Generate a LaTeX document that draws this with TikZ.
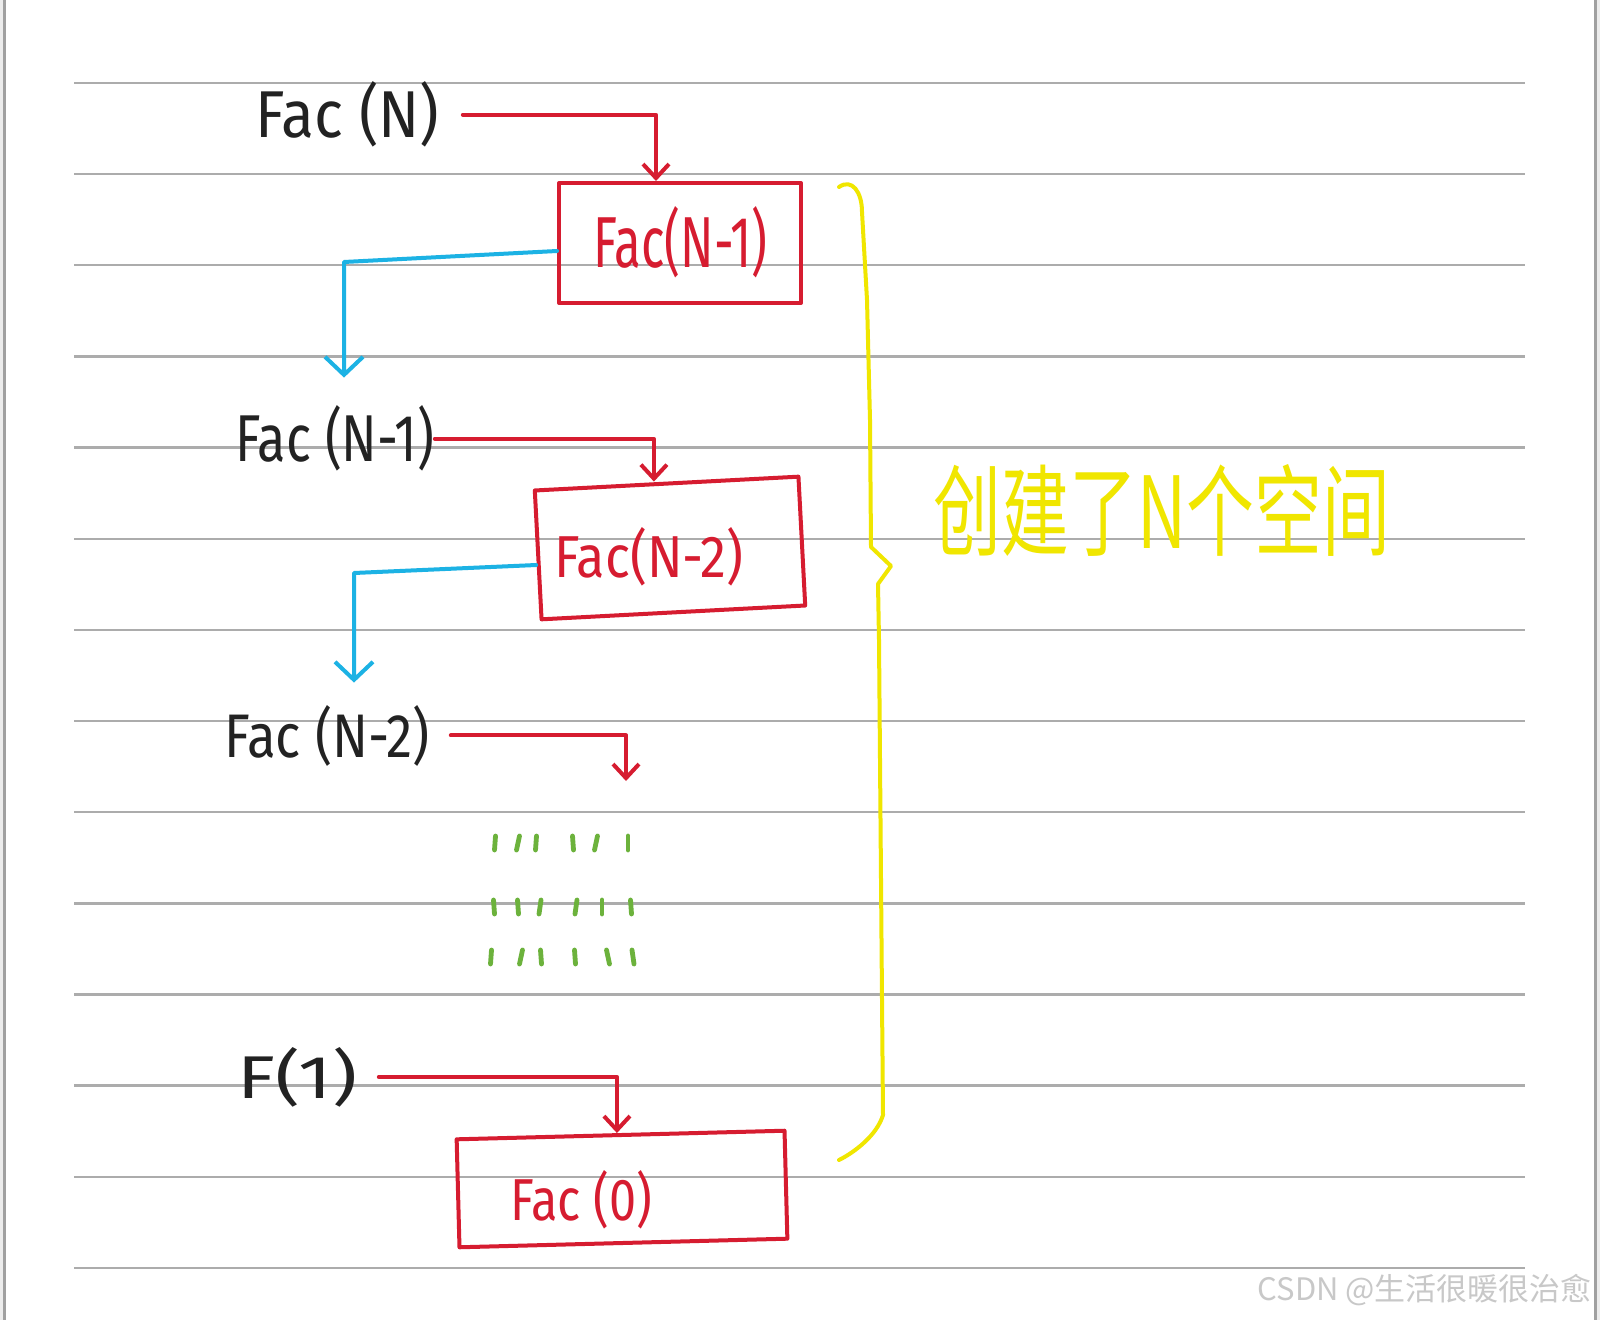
\documentclass[tikz,border=0pt]{standalone}
\usepackage{fontspec}
\usepackage{graphicx}
\usetikzlibrary{arrows.meta}
\newfontfamily\hand{Fira Sans}
\newfontfamily\cjk{Noto Sans CJK SC}
\definecolor{ink}{RGB}{34,34,34}
\definecolor{penred}{RGB}{214,28,48}
\definecolor{penblue}{RGB}{28,178,228}
\definecolor{pengreen}{RGB}{108,178,60}
\definecolor{penyellow}{RGB}{240,230,0}
\definecolor{rulegray}{RGB}{172,172,172}
\definecolor{edgegray}{RGB}{160,160,160}
\definecolor{bandgray}{RGB}{236,236,236}
\definecolor{wmark}{RGB}{200,200,200}
\begin{document}
\begin{tikzpicture}[x=0.5pt,y=-0.5pt,
  ruleline/.style={draw=rulegray,line width=1.2pt},
  blacklab/.style={inner sep=0pt,anchor=base west,text=ink,font=\hand},
  redlab/.style={inner sep=0pt,anchor=base west,text=penred,font=\hand},
  redbox/.style={draw=penred,line width=2pt,rectangle,inner sep=0pt,line join=round},
  redarrow/.style={draw=penred,line width=2pt,line cap=round,line join=round,-{Straight Barb[length=7pt,width=13pt]}},
  bluearrow/.style={draw=penblue,line width=2pt,line cap=round,line join=round,-{Straight Barb[length=9pt,width=19pt]}},
  greendash/.style={draw=pengreen,line width=2.4pt,line cap=round},
  bracepath/.style={draw=penyellow,line width=2pt,line cap=round,line join=round},
]
\useasboundingbox (0,0) rectangle (1600,1320);
\fill[white] (0,0) rectangle (1600,1320);
\fill[bandgray] (0,0) rectangle (3,1320);
\draw[edgegray,line width=1.3pt] (4.7,0) -- (4.7,1320);
\fill[bandgray] (1597,0) rectangle (1600,1320);
\draw[edgegray,line width=1.3pt] (1595.3,0) -- (1595.3,1320);
\foreach \i in {0,...,13} \draw[ruleline] (74,83+91.15*\i) -- (1525,83+91.15*\i);

% black labels
\node[blacklab] (fn)  at (255,138)  {\resizebox{92pt}{28pt}{Fac (N)}};
\node[blacklab] (fn1) at (235,462)  {\resizebox{99.5pt}{28pt}{Fac (N-1)}};
\node[blacklab] (fn2) at (224,757)  {\resizebox{102.5pt}{26pt}{Fac (N-2)}};
\node[blacklab] (f1)  at (237,1098) {\resizebox{60pt}{25.5pt}{F(1)}};

% red boxes
\node[redbox,minimum width=121pt,minimum height=60pt] (b1) at (680,243) {};
\node[redbox,minimum width=132pt,minimum height=64.5pt,rotate=3] (b2) at (670,548) {};
\node[redbox,minimum width=164pt,minimum height=54pt,rotate=1.5] (b3) at (622,1189) {};
\node[redlab] (t1) at (593,268)  {\resizebox{87pt}{30.5pt}{Fac(N-1)}};
\node[redlab] (t2) at (554,578)  {\resizebox{94.5pt}{25pt}{Fac(N-2)}};
\node[redlab] (t3) at (510,1220) {\resizebox{71pt}{25pt}{Fac (0)}};

% red arrows
\draw[redarrow] ([xshift=11.5pt]fn.east) -| ([xshift=-12pt]b1.north);
\draw[redarrow] (fn1.east) -| ([xshift=-6.3pt]b2.north);
\coordinate (e3) at (626,781);
\draw[redarrow] ([xshift=10.5pt]fn2.east) -| (e3);
\draw[redarrow] ([xshift=10.5pt]f1.east) -| ([xshift=-1.8pt]b3.north);

% blue arrows
\coordinate (kb1) at (344,262);
\draw[bluearrow,shorten >=14pt] ([yshift=-4pt]b1.west) -- (kb1) -- (kb1 |- fn1.north);
\coordinate (kb2) at (354,573);
\draw[bluearrow,shorten >=11pt] ([yshift=-5pt]b2.west) -- (kb2) -- (kb2 |- fn2.north);

% green dashes
\foreach \gx/\gy/\gd in {495/843/0.5, 518/843/1.5, 536/843/0.5, 573/843/-0.5, 596/843/1.5, 628/843/0,
                        494/907/-0.5, 518/907/-0.5, 540/907/1, 576/907/1, 602/907/0, 631/907/-0.5,
                        491/957/0.5, 521/957/1.5, 541/957/-0.5, 575/957/-0.5, 608/957/-1.5, 633/957/-1}
  \draw[greendash] (\gx+\gd,\gy-7) -- (\gx-\gd,\gy+7);

% yellow brace
\draw[bracepath] (839,187) .. controls (852,178) and (862,192) .. (862,212)
  -- (867,300) -- (870,420) -- (871,547) -- (891,566) -- (878,584) -- (879,640)
  -- (882,1000) -- (883,1115) .. controls (877,1135) and (855,1152) .. (839,1160);
\node[text=penyellow,font=\cjk,inner sep=0pt] (note) at (1162,510) {\resizebox*{228pt}{46pt}{创建了N个空间}};

% watermark
\node[text=wmark,font=\cjk,inner sep=0pt,anchor=base east] (wm) at (1592,1300) {\resizebox{167pt}{!}{CSDN @生活很暖很治愈}};
\end{tikzpicture}
\end{document}
